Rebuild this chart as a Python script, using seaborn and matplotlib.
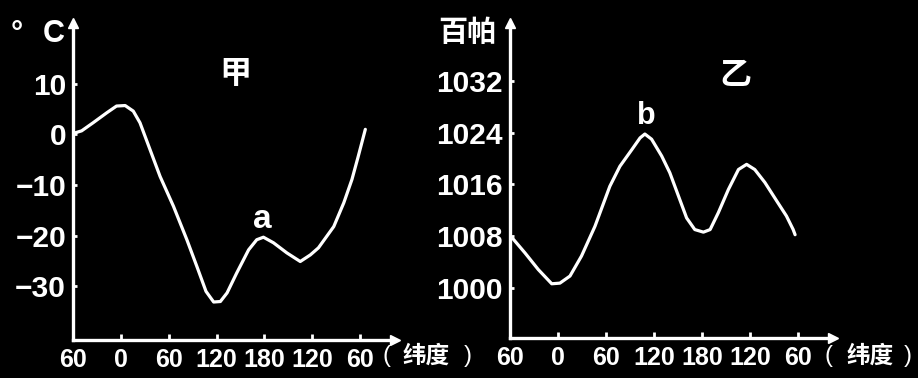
import matplotlib
matplotlib.use("Agg")
import matplotlib.pyplot as plt
import seaborn as sns
import pandas as pd

# ---- data ----
lat_tick_labels = ["60", "0", "60", "120", "180", "120", "60"]
lat_tick_pos = [0, 1, 2, 3, 4, 5, 6]

temp_x = [0.0, 0.04, 0.18, 0.42, 0.71, 0.91, 1.09, 1.26, 1.40, 1.61, 1.82, 2.10,
          2.38, 2.59, 2.78, 2.94, 3.08, 3.22, 3.42, 3.67, 3.84, 3.98, 4.19, 4.47,
          4.75, 4.96, 5.13, 5.45, 5.66, 5.83, 5.96, 6.11]
temp_y = [0.0, 0.3, 0.7, 2.3, 4.3, 5.6, 5.7, 4.6, 2.3, -3.0, -8.3, -14.2,
          -20.8, -26.1, -31.0, -33.1, -33.0, -31.3, -27.4, -22.8, -20.8, -20.3, -21.4, -23.4,
          -25.1, -23.8, -22.4, -18.2, -13.5, -8.9, -4.4, 1.0]

pres_x = [0.0, 0.07, 0.31, 0.59, 0.87, 1.04, 1.25, 1.49, 1.77, 1.98, 2.08, 2.29,
          2.54, 2.71, 2.81, 2.95, 3.16, 3.33, 3.51, 3.68, 3.85, 4.03, 4.17, 4.34,
          4.55, 4.76, 4.93, 5.10, 5.31, 5.56, 5.76, 5.90, 5.94]
pres_y = [1008.0, 1007.5, 1005.4, 1002.8, 1000.6, 1000.7, 1001.8, 1004.9, 1009.5, 1013.7, 1015.7, 1018.8,
          1021.4, 1023.2, 1023.8, 1023.0, 1020.4, 1017.8, 1014.2, 1010.8, 1009.0, 1008.6, 1009.0, 1011.6,
          1015.2, 1018.3, 1019.1, 1018.3, 1016.3, 1013.4, 1011.1, 1009.0, 1008.2]

temp_ticks = [10, 0, -10, -20, -30]
pres_ticks = [1032, 1024, 1016, 1008, 1000]

temp_df = pd.DataFrame({"lat": temp_x, "value": temp_y})
pres_df = pd.DataFrame({"lat": pres_x, "value": pres_y})

# ---- style ----
sns.set_theme(style="ticks")
plt.rcParams["font.family"] = ["Liberation Sans", "Noto Sans CJK SC", "DejaVu Sans"]
plt.rcParams["font.weight"] = "bold"
plt.rcParams["axes.unicode_minus"] = True

W, H = 918, 378
fig = plt.figure(figsize=(W / 100, H / 100), dpi=100, facecolor="black")

ax1 = fig.add_axes([73 / W, 38 / H, 322 / W, 317 / H])
ax2 = fig.add_axes([510 / W, 40 / H, 323 / W, 315 / H])

CJK = ["Noto Sans CJK SC", "DejaVu Sans"]


def style_axis(ax, df, yticks, ylim):
    ax.set_facecolor("black")
    sns.lineplot(data=df, x="lat", y="value", ax=ax, color="white", lw=2.3,
                 sort=False, estimator=None, solid_joinstyle="round",
                 solid_capstyle="round")
    ax.set_xlim(0, 6.73)
    ax.set_ylim(*ylim)
    for s in ["top", "right"]:
        ax.spines[s].set_visible(False)
    for s in ["left", "bottom"]:
        ax.spines[s].set_color("white")
        ax.spines[s].set_linewidth(2.4)
    ax.set_xticks(lat_tick_pos)
    ax.set_xticklabels(lat_tick_labels)
    ax.set_yticks(yticks)
    ax.tick_params(axis="x", direction="in", length=4, width=2, colors="white",
                   labelsize=18, pad=6)
    ax.tick_params(axis="y", direction="in", length=3, width=2, colors="white",
                   labelsize=21.5, pad=5)
    for lab in ax.get_xticklabels() + ax.get_yticklabels():
        lab.set_fontweight("bold")
    ax.set_xlabel("")
    ax.set_ylabel("")
    ax.plot([1], [0], marker=">", transform=ax.transAxes, clip_on=False,
            color="white", ms=7)
    ax.plot([0], [1], marker="^", transform=ax.transAxes, clip_on=False,
            color="white", ms=7)


style_axis(ax1, temp_df, temp_ticks, (-40.6, 22))
style_axis(ax2, pres_df, pres_ticks, (992.2, 1041))

# panel titles and point labels
ax1.text(3.39, 11.9, "甲", family=CJK, fontsize=23, fontweight="bold",
         color="white", ha="center", va="center")
ax2.text(4.69, 1032.8, "乙", family=CJK, fontsize=23, fontweight="bold",
         color="white", ha="center", va="center")
ax1.text(3.95, -18.4, "a", fontsize=24, fontweight="bold", color="white",
         ha="center", va="baseline")
ax2.text(2.83, 1025.3, "b", fontsize=22, fontweight="bold", color="white",
         ha="center", va="baseline")

# axis unit labels
fig.text(11 / W, 1 - 42 / H, "°", fontsize=22, fontweight="bold", color="white",
         ha="left", va="baseline")
fig.text(43 / W, 1 - 42 / H, "C", fontsize=22, fontweight="bold", color="white",
         ha="left", va="baseline")
fig.text(467 / W, 1 - 32 / H, "百帕", family=CJK, fontsize=21, fontweight="bold",
         color="white", ha="center", va="center")

# latitude labels "( 纬度 )"
for lp, cjk_x, rp in [(383, 403, 464), (825, 847, 904)]:
    fig.text(lp / W, 1 - 356 / H, "(", fontsize=17, fontweight="normal",
             color="white", ha="left", va="center")
    fig.text(cjk_x / W, 1 - 356 / H, "纬度", family=CJK, fontsize=17,
             fontweight="bold", color="white", ha="left", va="center")
    fig.text(rp / W, 1 - 356 / H, ")", fontsize=17, fontweight="normal",
             color="white", ha="left", va="center")

fig.savefig("out.png", dpi=100, facecolor="black")
